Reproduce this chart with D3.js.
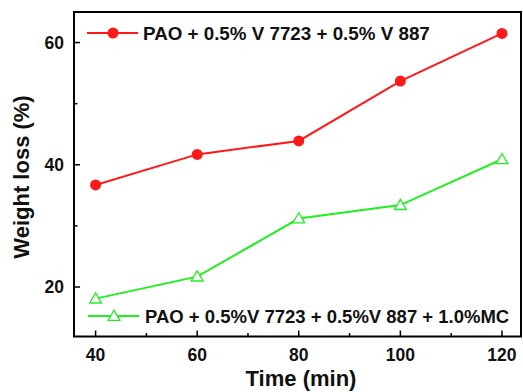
<!DOCTYPE html>
<html><head><meta charset="utf-8">
<script src="https://cdn.jsdelivr.net/npm/d3@7"></script>
<style>body{margin:0;background:#fff}svg{display:block}text{font-family:Arial,"Liberation Sans",sans-serif;font-weight:bold;fill:#111}</style>
</head><body><svg id="c" width="523" height="392"></svg>
<script>
const times = [40, 60, 80, 100, 120];
const seriesNames = ["PAO + 0.5% V 7723 + 0.5% V 887", "PAO + 0.5%V 7723 + 0.5%V 887 + 1.0%MC"];
const redValues = [36.7, 41.7, 43.9, 53.7, 61.5];
const greenValues = [18.1, 21.7, 31.2, 33.4, 40.9];
const xTicks = [40, 60, 80, 100, 120];
const yTicks = [20, 40, 60];

const svg = d3.select("#c");
const L = 74, R = 521, T = 12, B = 336.5;
const x = d3.scaleLinear().domain([35.75, 123.75]).range([L, R]);
const y = d3.scaleLinear().domain([11.9, 65.0]).range([B, T]);

svg.append("rect").attr("x", L).attr("y", T).attr("width", R - L).attr("height", B - T)
  .attr("fill", "none").attr("stroke", "#000").attr("stroke-width", 2);

const xMinor = [50, 70, 90, 110];
xTicks.forEach(v => svg.append("line").attr("x1", x(v)).attr("x2", x(v)).attr("y1", B).attr("y2", B - 6).attr("stroke", "#000").attr("stroke-width", 1.5));
xMinor.forEach(v => svg.append("line").attr("x1", x(v)).attr("x2", x(v)).attr("y1", B).attr("y2", B - 3.5).attr("stroke", "#000").attr("stroke-width", 1.5));
xTicks.forEach(v => svg.append("text").attr("x", x(v)).attr("y", 361).attr("text-anchor", "middle").attr("font-size", 17.5).text(v));

const yMinor = [30, 50];
yTicks.forEach(v => svg.append("line").attr("x1", L).attr("x2", L + 6).attr("y1", y(v)).attr("y2", y(v)).attr("stroke", "#000").attr("stroke-width", 1.5));
yMinor.forEach(v => svg.append("line").attr("x1", L).attr("x2", L + 3.5).attr("y1", y(v)).attr("y2", y(v)).attr("stroke", "#000").attr("stroke-width", 1.5));
yTicks.forEach(v => svg.append("text").attr("x", L - 10).attr("y", y(v) + 6).attr("text-anchor", "end").attr("font-size", 17.5).text(v));

svg.append("text").attr("x", 301).attr("y", 386).attr("text-anchor", "middle").attr("font-size", 22).text("Time (min)");
svg.append("text").attr("transform", `translate(29,177) rotate(-90)`).attr("text-anchor", "middle").attr("font-size", 22).text("Weight loss (%)");

const red = "#ff1a1a", green = "#22ee22";
const line = d3.line().x(d => x(d[0])).y(d => y(d[1]));
const redData = times.map((t, i) => [t, redValues[i]]);
const greenData = times.map((t, i) => [t, greenValues[i]]);

svg.append("path").datum(redData).attr("d", line).attr("fill", "none").attr("stroke", red).attr("stroke-width", 2);
svg.selectAll(".rc").data(redData).enter().append("circle").attr("cx", d => x(d[0])).attr("cy", d => y(d[1])).attr("r", 5.5).attr("fill", red);

svg.append("path").datum(greenData).attr("d", line).attr("fill", "none").attr("stroke", green).attr("stroke-width", 2);
const tri = d3.symbol().type(d3.symbolTriangle).size(60);
svg.selectAll(".gt").data(greenData).enter().append("path").attr("d", tri)
  .attr("transform", d => `translate(${x(d[0])},${y(d[1]) + 1})`)
  .attr("fill", "#fff").attr("stroke", green).attr("stroke-width", 1.3);

svg.append("line").attr("x1", 87).attr("x2", 138).attr("y1", 33).attr("y2", 33).attr("stroke", red).attr("stroke-width", 2);
svg.append("circle").attr("cx", 113).attr("cy", 33).attr("r", 5.5).attr("fill", red);
svg.append("text").attr("x", 143).attr("y", 40).attr("font-size", 18.8).text(seriesNames[0]);

svg.append("line").attr("x1", 88).attr("x2", 139).attr("y1", 316).attr("y2", 316).attr("stroke", green).attr("stroke-width", 2);
svg.append("path").attr("d", tri).attr("transform", "translate(114,317)").attr("fill", "#fff").attr("stroke", green).attr("stroke-width", 1.3);
svg.append("text").attr("x", 145).attr("y", 323).attr("font-size", 18.5).text(seriesNames[1]);
</script></body></html>
